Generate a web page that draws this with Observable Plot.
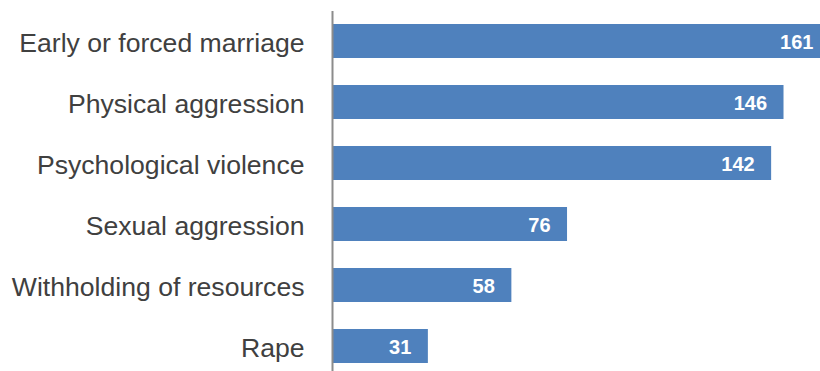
<!DOCTYPE html>
<html>
<head>
<meta charset="utf-8">
<script src="https://cdn.jsdelivr.net/npm/d3@7"></script>
<script src="https://cdn.jsdelivr.net/npm/@observablehq/plot@0.6"></script>
<style>
  html, body { margin: 0; padding: 0; background: #fff; }
  svg { display: block; }
</style>
</head>
<body>
<div id="chart"></div>
<script>
const categories = [
  "Early or forced marriage",
  "Physical aggression",
  "Psychological violence",
  "Sexual aggression",
  "Withholding of resources",
  "Rape"
];
const values = [161, 146, 142, 76, 58, 31];

const data = categories.map((c, i) => ({category: c, value: values[i]}));

const chart = Plot.plot({
  width: 820,
  height: 371,
  marginLeft: 332,
  marginRight: 0,
  marginTop: 11,
  marginBottom: 0,
  style: {fontFamily: "Liberation Sans, Arial, sans-serif", background: "#fff"},
  x: {domain: [0, 157.8], axis: null},
  y: {domain: categories, range: [10.4, 377.6], paddingInner: 0.436, paddingOuter: 0.218, label: null},
  marks: [
    Plot.barX(data, {y: "category", x: "value", fill: "#4F81BD"}),
    Plot.text(data, {
      y: "category", x: "value", text: d => String(d.value),
      textAnchor: "end", dx: -17, dy: 1, fill: "#fff", fontWeight: "bold", fontSize: 20
    }),
    Plot.ruleX([0], {stroke: "#8c8c8c", strokeWidth: 2}),
    Plot.axisY({tickSize: 0, tickPadding: 28, dy: 1.5, fontSize: 26.6, color: "#404040", label: null})
  ]
});
document.getElementById("chart").appendChild(chart);
</script>
</body>
</html>
